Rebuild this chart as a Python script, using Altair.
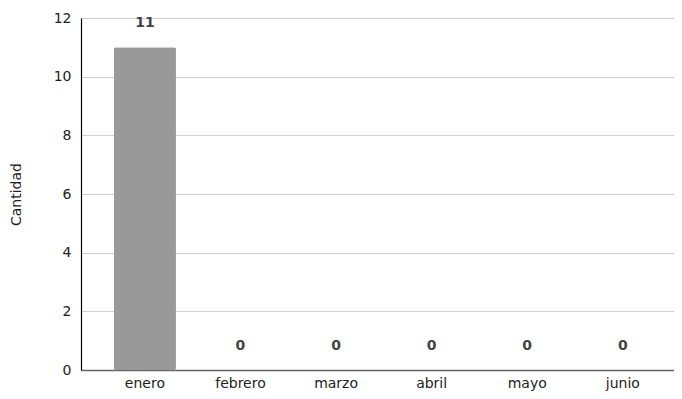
import altair as alt
import pandas as pd

meses = ["enero", "febrero", "marzo", "abril", "mayo", "junio"]
cantidad = [11, 0, 0, 0, 0, 0]

df = pd.DataFrame({"mes": meses, "cantidad": cantidad})

FONT = "DejaVu Sans"
W, H = 593, 352

x = alt.X("mes:N", sort=meses, title=None,
          scale=alt.Scale(paddingInner=0.35, paddingOuter=0.277, align=0.62),
          axis=alt.Axis(labelAngle=0, labelFont=FONT, labelFontSize=14, labelColor="#222",
                        labelPadding=6, ticks=False, domainColor="#666", domainWidth=1.5))
y = alt.Y("cantidad:Q", title="Cantidad",
          scale=alt.Scale(domain=[0, 12]),
          axis=alt.Axis(values=[0, 2, 4, 6, 8, 10, 12], labelFont=FONT, labelFontSize=14,
                        labelColor="#222", labelPadding=10, ticks=False,
                        domainColor="#000", domainWidth=1.2, gridColor="#d0d0d0",
                        titleFont=FONT, titleFontSize=14, titleFontWeight="normal",
                        titleColor="#222", titleX=-65, titleY=H / 2, titleAngle=270,
                        titleAlign="center", titleBaseline="middle"))

bars = alt.Chart(df).mark_bar(color="#999999", cornerRadius=2).encode(x=x, y=y)
labels = alt.Chart(df).mark_text(font=FONT, fontSize=14, fontWeight="bold", color="#444",
                                 baseline="middle", dy=-24).encode(
    x=alt.X("mes:N", sort=meses), y=alt.Y("cantidad:Q"), text="cantidad:Q")

chart = (bars + labels).properties(
    width=W, height=H,
    autosize=alt.AutoSizeParams(type="none"),
    padding={"left": 73, "top": 10, "right": 0, "bottom": 21},
).configure_view(stroke=None)

chart.save("out.html", embed_options={"renderer": "svg", "actions": False})
